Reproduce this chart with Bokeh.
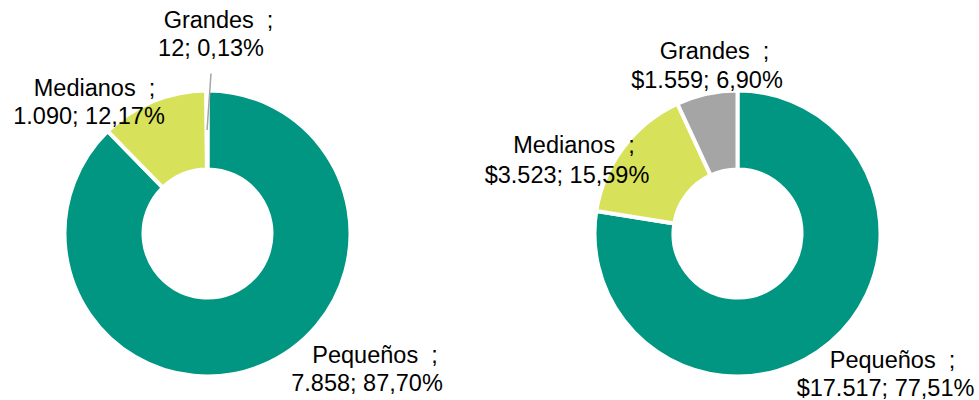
import math
from bokeh.plotting import figure
from bokeh.models import ColumnDataSource, Range1d
from bokeh.embed import file_html
from bokeh.resources import INLINE
from bokeh.core.properties import value

# ---- data ----
categories = ["Pequeños", "Medianos", "Grandes"]
count_values = [7858, 1090, 12]          # left donut (number of companies)
amount_values = [17517, 3523, 1559]      # right donut (amount)
value_prefix = ["", "$"]
colors = ["#009681", "#D7E15A", "#A5A5A5"]

# ---- layout (screen px of the 979x400 page) ----
W, H = 979, 400
OFF = 0
TEXT_DY = 8  # renderer places alphabetic baseline slightly low; compensate
centers_screen = [(207, 233), (737, 233)]
R_OUT, R_IN, BORDER = 143, 64, 4
# per chart, per category: (line1 cx, line1 baseline, line2 cx, line2 baseline) offsets from center
label_offsets = [
    [(167.5, 129, 159.5, 157), (-113, -138, -118.5, -110), (11, -206, 3.5, -178)],
    [(155, 134, 148, 162), (-163.5, -81, -170.5, -51), (-23, -175, -30.5, -146)],
]


def to_plot(sx, sy):
    return sx - OFF, (H + OFF) - sy


def fmt_int(v):
    return f"{v:,}".replace(",", ".")


def fmt_pct(v):
    return f"{v:.2f}".replace(".", ",") + "%"


p = figure(width=W, height=H, x_range=Range1d(0, W), y_range=Range1d(0, H),
           output_backend="svg", toolbar_location=None,
           x_axis_location=None, y_axis_location=None,
           min_border=0, min_border_left=0, min_border_right=0,
           min_border_top=0, min_border_bottom=0)
p.grid.visible = False
p.outline_line_color = None
p.background_fill_color = "white"
p.border_fill_color = "white"

for ci, vals in enumerate([count_values, amount_values]):
    total = float(sum(vals))
    cx, cy = to_plot(*centers_screen[ci])
    starts, ends, xs, ys = [], [], [], []
    cum = 0.0
    for v in vals:
        a0 = math.pi / 2 - 2 * math.pi * cum / total
        cum += v
        a1 = math.pi / 2 - 2 * math.pi * cum / total
        starts.append(a0)
        ends.append(a1)
        xs.append(cx)
        ys.append(cy)
    src = ColumnDataSource(dict(x=xs, y=ys, start=starts, end=ends, color=colors))
    p.annular_wedge(x="x", y="y", inner_radius=R_IN, outer_radius=R_OUT,
                    start_angle="start", end_angle="end", direction="clock",
                    fill_color="color", line_color="white", line_width=BORDER,
                    source=src)

    lx, ly, lt = [], [], []
    for k, (cat, v) in enumerate(zip(categories, vals)):
        pct = 100 * v / total
        line1 = cat + "\u00a0 ;"
        line2 = f"{value_prefix[ci]}{fmt_int(v)}; {fmt_pct(pct)}"
        o = label_offsets[ci][k]
        sx0, sy0 = centers_screen[ci]
        x1, y1 = to_plot(sx0 + o[0], sy0 + o[1])
        x2, y2 = to_plot(sx0 + o[2], sy0 + o[3])
        lx += [x1, x2]
        ly += [y1 + TEXT_DY, y2 + TEXT_DY]
        lt += [line1, line2]
        if pct < 1:
            mid = (starts[k] + ends[k]) / 2
            rm = (R_OUT + R_IN) / 2
            ex, ey = cx + rm * math.cos(mid), cy + rm * math.sin(mid)
            bx, by = x2, y2 - 18
            p.line([bx, ex], [by, ey], line_color="#A5A5A5", line_width=1.5)
    tsrc = ColumnDataSource(dict(x=lx, y=ly, text=lt))
    p.text(x="x", y="y", text="text", source=tsrc,
           text_font=value("Liberation Sans"), text_font_size=value("23.5px"),
           text_align="center", text_baseline="alphabetic", text_color="#000000")

open("out.html", "w").write(file_html(p, INLINE))
